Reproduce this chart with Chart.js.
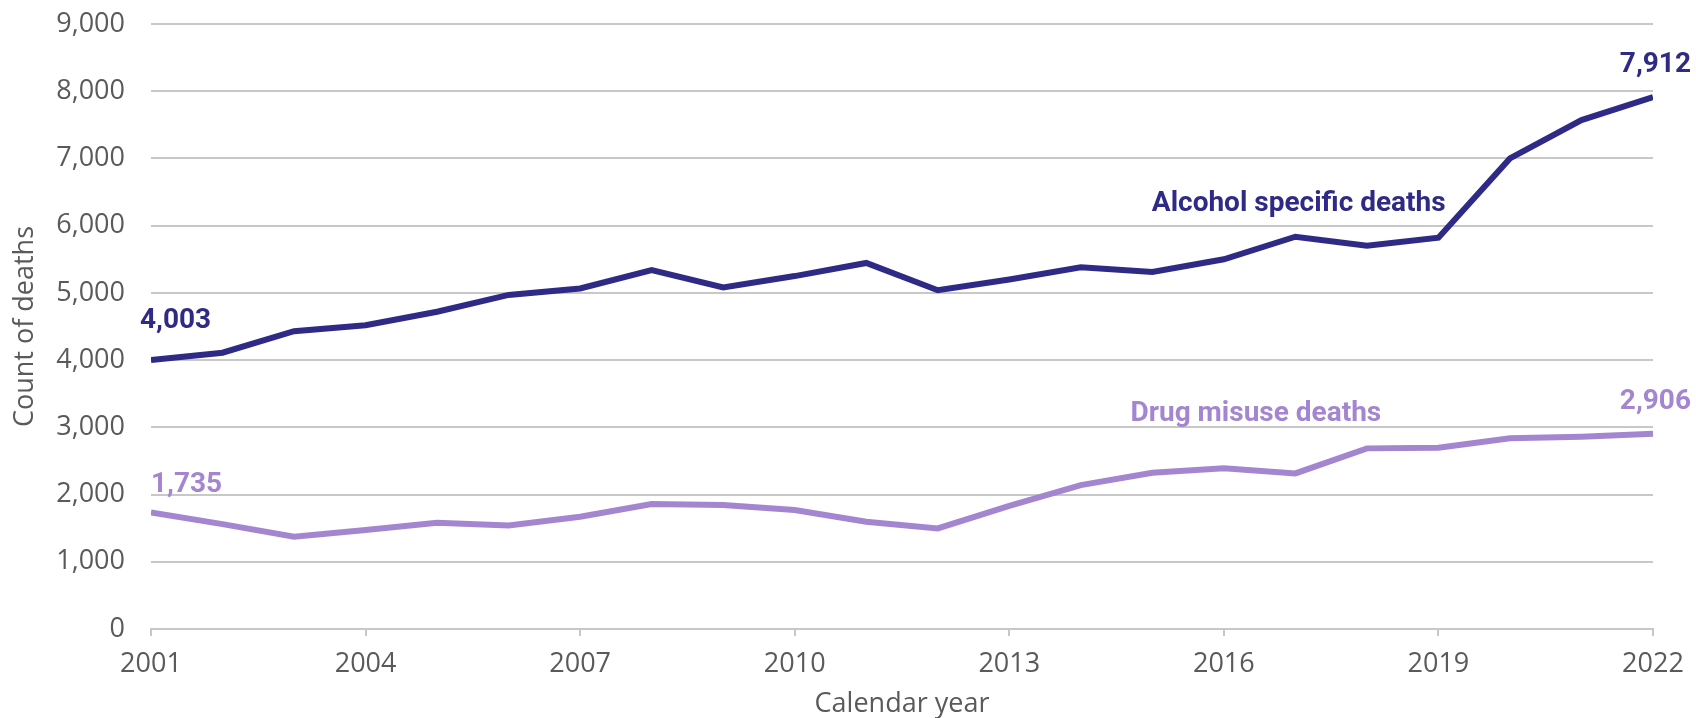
<!DOCTYPE html>
<html>
<head>
<meta charset="utf-8">
<script src="https://cdn.jsdelivr.net/npm/chart.js@4.4.1/dist/chart.umd.min.js"></script>
<style>
  html, body { margin: 0; padding: 0; background: #ffffff; }
  #wrap { width: 1696px; height: 718px; position: relative; }
</style>
</head>
<body>
<div id="wrap"><canvas id="c" width="1696" height="718"></canvas></div>
<script>
const years = [2001,2002,2003,2004,2005,2006,2007,2008,2009,2010,2011,2012,2013,2014,2015,2016,2017,2018,2019,2020,2021,2022];
const alcoholDeaths = [4003,4110,4430,4520,4720,4970,5065,5340,5080,5250,5445,5040,5200,5380,5310,5500,5835,5700,5820,7000,7570,7912];
const drugDeaths = [1735,1560,1373,1472,1580,1540,1670,1860,1845,1770,1595,1497,1830,2140,2325,2390,2315,2687,2696,2836,2860,2906];
const seriesNames = ['Alcohol specific deaths', 'Drug misuse deaths'];
const seriesNamePos = [[2019.1, 6220], [2018.2, 3095]];
const yTicks = { min: 0, max: 9000, step: 1000 };
const xTickStep = 3;
const axisTitles = { x: 'Calendar year', y: 'Count of deaths' };

const NAVY = '#2f2a86';
const PURPLE = '#a486d0';
const TICK = '#5a5a5a';
const GRID = '#c8c8c8';
const TICKFONT = "'Open Sans', 'Liberation Sans', sans-serif";
const BOLDFONT = "Roboto, 'Liberation Sans', sans-serif";

const fmt = v => Number(v).toLocaleString('en-US');
const toPts = (vals) => vals.map((v, i) => ({ x: years[i], y: v }));

const labelPlugin = {
  id: 'labels',
  afterDatasetsDraw(chart) {
    const ctx = chart.ctx;
    const xs = chart.scales.x, ys = chart.scales.y;
    ctx.save();
    ctx.font = "bold 28px " + BOLDFONT;
    ctx.textBaseline = 'alphabetic';
    const colors = [NAVY, PURPLE];
    const data = [alcoholDeaths, drugDeaths];
    data.forEach((vals, d) => {
      const meta = chart.getDatasetMeta(d);
      const p0 = meta.data[0], pN = meta.data[meta.data.length - 1];
      ctx.fillStyle = colors[d];
      ctx.textAlign = 'left';
      if (d === 0) ctx.fillText(fmt(vals[0]), p0.x - 11, p0.y - 32);
      else ctx.fillText(fmt(vals[0]), p0.x, p0.y - 20);
      ctx.textAlign = 'right';
      ctx.fillText(fmt(vals[vals.length - 1]), pN.x + 38, pN.y - 25);
      const [sx, sy] = seriesNamePos[d];
      ctx.fillText(seriesNames[d], xs.getPixelForValue(sx), ys.getPixelForValue(sy));
    });
    ctx.restore();
  }
};

new Chart(document.getElementById('c'), {
  type: 'line',
  data: {
    datasets: [
      { label: seriesNames[0], data: toPts(alcoholDeaths), borderColor: NAVY, backgroundColor: NAVY, borderWidth: 6, pointRadius: 0, tension: 0, borderJoinStyle: 'miter' },
      { label: seriesNames[1], data: toPts(drugDeaths), borderColor: PURPLE, backgroundColor: PURPLE, borderWidth: 6, pointRadius: 0, tension: 0, borderJoinStyle: 'miter' }
    ]
  },
  options: {
    responsive: false,
    animation: false,
    events: [],
    layout: { padding: { top: 24, right: 43, bottom: 0, left: 0 } },
    plugins: { legend: { display: false }, tooltip: { enabled: false } },
    scales: {
      x: {
        type: 'linear',
        min: years[0],
        max: years[years.length - 1],
        afterFit(s) { s.height = 89; },
        ticks: { stepSize: xTickStep, color: TICK, font: { family: TICKFONT, size: 27 }, padding: 12, callback: v => String(v), maxRotation: 0 },
        grid: { drawOnChartArea: false, drawTicks: true, tickLength: 7, color: GRID, lineWidth: 2 },
        border: { display: true, color: GRID, width: 2 },
        title: { display: true, text: axisTitles.x, color: TICK, font: { family: TICKFONT, size: 27 }, padding: { top: 0, bottom: -3 } }
      },
      y: {
        min: yTicks.min,
        max: yTicks.max,
        afterFit(s) { s.width = 151; s.paddingTop = 16; s.paddingBottom = 0; },
        ticks: { stepSize: yTicks.step, color: TICK, font: { family: TICKFONT, size: 27 }, padding: 26, callback: v => fmt(v) },
        grid: { drawTicks: false, color: GRID, lineWidth: 2 },
        border: { display: false },
        title: { display: true, text: axisTitles.y, color: TICK, font: { family: TICKFONT, size: 27 }, padding: { top: 9, bottom: 0 } }
      }
    }
  },
  plugins: [labelPlugin]
});
</script>
</body>
</html>
